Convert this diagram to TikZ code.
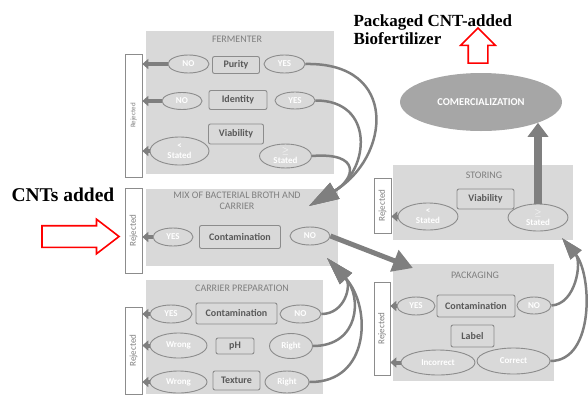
\documentclass[tikz,border=0pt]{standalone}
\usepackage{fontspec}
\setmainfont{Carlito}
\newfontfamily\headfont{Liberation Serif}
\usetikzlibrary{shapes, shapes.arrows, arrows.meta, positioning}
\definecolor{stagegray}{HTML}{D9D9D9}
\definecolor{edgegray}{HTML}{8C8C8C}
\definecolor{labelgray}{HTML}{595959}
\definecolor{flowgray}{HTML}{7F7F7F}
\definecolor{commgray}{HTML}{A6A6A6}

\begin{document}
\begin{tikzpicture}[x=1pt,y=-1pt,
  stagetitle/.style={text=flowgray, font=\fontsize{10}{12}\selectfont, align=center},
  reject/.style={draw=edgegray, fill=white, line width=0.6pt, rotate=90, inner sep=0pt, text=flowgray, font=\fontsize{9}{10}\selectfont},
  test/.style={draw=edgegray, line width=0.9pt, rounded corners=2pt, inner sep=0pt, text=labelgray, font=\bfseries\fontsize{10}{11}\selectfont},
  result/.style={ellipse, draw=edgegray, line width=0.9pt, fill=stagegray, inner sep=0pt, text=white, align=center, font=\bfseries\fontsize{9}{10}\selectfont},
  rejflow/.style={draw=flowgray, line width=4pt, -{Triangle[length=6pt,width=10pt]}},
  flow/.style={draw=flowgray, line width=2.5pt},
  redarrow/.style={single arrow, draw=red, line width=1.6pt, fill=white},
]
\useasboundingbox (0,0) rectangle (588,394);

\fill[stagegray] (146,31) rectangle (334,174);
\fill[stagegray] (146,189) rectangle (338,266);
\fill[stagegray] (146,280) rectangle (323,394);
\fill[stagegray] (393,165) rectangle (573,240);
\fill[stagegray] (393,264) rectangle (554,381);

\node[stagetitle] (fermTitle) at (237,39) {FERMENTER};
\node[stagetitle, font=\fontsize{10}{11.5}\selectfont] (mixTitle) at (237,201) {MIX OF BACTERIAL BROTH AND\\CARRIER};
\node[stagetitle] (carrTitle) at (242,288) {CARRIER PREPARATION};
\node[stagetitle] (storTitle) at (484,175) {STORING};
\node[stagetitle] (packTitle) at (475,275) {PACKAGING};

\node[reject, minimum width=123, minimum height=17, font=\fontsize{7}{8}\selectfont] (rejF) at (133.5,115.5) {Rejected};
\node[reject, minimum width=85, minimum height=17] (rejM) at (133.5,230.5) {Rejected};
\node[reject, minimum width=87, minimum height=17] (rejC) at (133.5,350.5) {Rejected};
\node[reject, minimum width=55, minimum height=17] (rejS) at (382.5,205.5) {Rejected};
\node[reject, minimum width=93, minimum height=16] (rejK) at (382,328.5) {Rejected};

\node[result, minimum width=41, minimum height=18] (noP) at (188.5,64) {NO};
\node[test, minimum width=47, minimum height=17] (purity) at (236,65) {Purity};
\node[result, minimum width=41, minimum height=18] (yesP) at (284.5,64) {YES};
\node[result, minimum width=40, minimum height=17] (noI) at (182,101) {NO};
\node[test, minimum width=58, minimum height=19] (identity) at (238,100) {Identity};
\node[result, minimum width=40, minimum height=17] (yesI) at (295,100.5) {YES};
\node[test, minimum width=55, minimum height=20] (viabF) at (236,134) {Viability};
\node[result, minimum width=59, minimum height=28] (ltF) at (179.5,151) {<\\Stated};
\node[result, minimum width=52, minimum height=24] (geF) at (285.5,156) {$\geq$\\Stated};

\node[result, minimum width=40, minimum height=18] (yesM) at (173,237) {YES};
\node[test, minimum width=81, minimum height=23] (contM) at (240,237) {Contamination};
\node[result, minimum width=40, minimum height=18] (noM) at (310,236) {NO};

\node[result, minimum width=42, minimum height=18] (yesC) at (171,314) {YES};
\node[test, minimum width=81, minimum height=21] (contC) at (236.5,313.5) {Contamination};
\node[result, minimum width=41, minimum height=18] (noC) at (300.5,314) {NO};
\node[result, minimum width=57, minimum height=25] (wrongP) at (178.5,345.5) {Wrong};
\node[test, minimum width=38, minimum height=16] (ph) at (235,346) {pH};
\node[result, minimum width=43, minimum height=25] (rightP) at (291,346) {Right};
\node[result, minimum width=57, minimum height=22] (wrongT) at (178.5,382) {Wrong};
\node[test, minimum width=47, minimum height=19] (texture) at (236.5,380.5) {Texture};
\node[result, minimum width=44, minimum height=22] (rightT) at (287,382) {Right};

\node[result, minimum width=60, minimum height=27] (ltS) at (428,216.5) {<\\Stated};
\node[test, minimum width=57, minimum height=20] (viabS) at (485.5,199) {Viability};
\node[result, minimum width=60, minimum height=27] (geS) at (538,217.5) {$\geq$\\Stated};

\node[result, minimum width=38, minimum height=18] (yesK) at (416,306) {YES};
\node[test, minimum width=78, minimum height=22] (contK) at (476,306) {Contamination};
\node[result, minimum width=34, minimum height=17] (noK) at (534,305.5) {NO};
\node[test, minimum width=43, minimum height=22] (labelK) at (472.5,336) {Label};
\node[result, minimum width=74, minimum height=25] (incK) at (438,362.5) {Incorrect};
\node[result, minimum width=73, minimum height=26] (corK) at (513.5,361) {Correct};

\node[ellipse, fill=commgray, minimum width=162, minimum height=58, text=white, font=\bfseries\fontsize{10.5}{12}\selectfont] (comm) at (481,102) {COMERCIALIZATION};

\node[anchor=north west, align=left, font=\headfont\bfseries\fontsize{17}{18}\selectfont] (product) at (350,11) {Packaged CNT-added\\Biofertilizer};
\node[anchor=west, font=\headfont\bfseries\fontsize{19.5}{21}\selectfont] (cnts) at (8,195) {CNTs added};
\node[redarrow, inner sep=10pt, minimum height=77, single arrow head extend=6.5, single arrow tip angle=75] (cntArrow) at (73.5,236.5) {};
\node[redarrow, shape border rotate=90, inner sep=9pt, minimum height=35, single arrow head extend=7.5] (outArrow) at (478,50.5) {};

\coordinate (mixIn) at (309,206);
\coordinate (mixIn2) at (327,258);
\coordinate (packIn) at (413,268);
\coordinate (storIn) at (562,238);

\draw[rejflow] (noP.west) -- (noP.west -| rejF.south);
\draw[rejflow] (noI.west) -- (noI.west -| rejF.south);
\draw[rejflow] (ltF.west) -- (ltF.west -| rejF.south);
\draw[rejflow] (yesM.west) -- (yesM.west -| rejM.south);
\draw[rejflow] (yesC.west) -- (yesC.west -| rejC.south);
\draw[rejflow] (wrongP.west) -- (wrongP.west -| rejC.south);
\draw[rejflow] (wrongT.west) -- (wrongT.west -| rejC.south);
\draw[rejflow] (ltS.west) -- (ltS.west -| rejS.south);
\draw[rejflow] (yesK.west) -- (yesK.west -| rejK.south);
\draw[rejflow] (incK.west) -- (incK.west -| rejK.south);

\draw[flow, -{Triangle[length=30pt,width=18pt]}] (yesP.east) .. controls (400,62) and (390,158) .. (mixIn);
\draw[flow, -{Triangle[length=30pt,width=18pt]}] (yesI.east) .. controls (375,100) and (370,170) .. (mixIn);
\draw[flow, -{Triangle[length=30pt,width=18pt]}] (geF.east) .. controls (362,152) and (355,179) .. (mixIn);

\draw[flow, -{Triangle[length=28pt,width=16pt]}] (noC.east) .. controls (345,314) and (352,285) .. (mixIn2);
\draw[flow, -{Triangle[length=28pt,width=16pt]}] (rightP.east) .. controls (360,346) and (362,296) .. (mixIn2);
\draw[flow, -{Triangle[length=28pt,width=16pt]}] (rightT.east) .. controls (370,383) and (372,307) .. (mixIn2);

\draw[flow, line width=5pt, -{Triangle[length=20pt,width=22pt]}] (noM.east) -- (packIn);

\draw[flow, -{Triangle[length=22pt,width=14pt]}] (noK.east) .. controls (576,304) and (582,262) .. (storIn);
\draw[flow, -{Triangle[length=22pt,width=14pt]}] (corK.east) .. controls (595,361) and (592,274) .. (storIn);

\draw[flow, line width=8pt, -{Triangle[length=14pt,width=20pt]}] (geS.north) -- (geS.north |- comm.-20);
\end{tikzpicture}
\end{document}
